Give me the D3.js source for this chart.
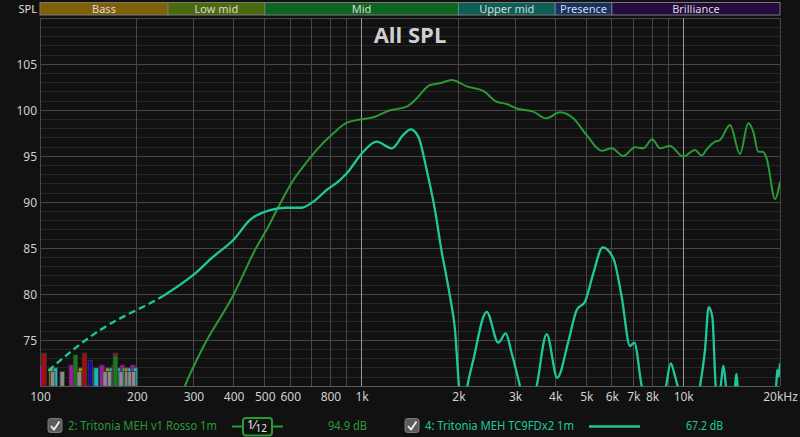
<!DOCTYPE html>
<html>
<head>
<meta charset="utf-8">
<script src="https://cdn.jsdelivr.net/npm/d3@7"></script>
<style>
  html, body { margin: 0; padding: 0; background: #111111; }
  svg { display: block; font-family: "Noto Sans", "Open Sans", sans-serif; }
</style>
</head>
<body>
<svg id="chart" width="800" height="437"></svg>
<script>
// ---------------- DATA ----------------
const bandNames = ["Bass", "Low mid", "Mid", "Upper mid", "Presence", "Brilliance"];
const bandEdges = [100, 250, 500, 2000, 4000, 6000, 20000];
const bandColors = ["#7f6006", "#4b6a0c", "#0c6620", "#0b5f56", "#143263", "#250b3e"];

const yTicks = [75, 80, 85, 90, 95, 100, 105];
const xTickValues = [100, 200, 300, 400, 500, 600, 800, 1000, 2000, 3000, 4000, 5000, 6000, 7000, 8000, 10000, 20000];
const xTickLabels = ["100", "200", "300", "400", "500", "600", "800", "1k", "2k", "3k", "4k", "5k", "6k", "7k", "8k", "10k", "20kHz"];

// Series 2: Tritonia MEH v1 Rosso 1m (green)
const greenFreq = [275, 282, 322, 399, 466, 519, 551, 613, 659, 725, 817, 899, 989, 1087, 1226, 1381, 1484, 1632, 1753, 1906,
  2123, 2390, 2631, 2827, 3036, 3420, 3745, 4140, 4553, 5010, 5580, 5995, 6513, 7081, 7515, 8013, 8471, 9099, 10007,
  10882, 11416, 11834, 12564, 13015, 13981, 15016, 15940, 16519, 17120, 17668, 18179, 19300, 20000];
const greenDb = [69.0, 70.0, 74.3, 79.9, 84.8, 87.7, 89.5, 92.4, 93.9, 95.7, 97.5, 98.65, 99.0, 99.24, 100.0, 100.4, 101.3, 102.75, 102.93, 103.3,
  102.6, 102.1, 100.93, 100.68, 100.2, 99.85, 99.13, 99.78, 99.13, 97.3, 95.6, 95.87, 95.03, 95.98, 95.87, 96.85, 95.87, 96.12, 94.96,
  95.68, 95.07, 95.76, 96.59, 96.77, 98.4, 95.25, 98.59, 97.67, 95.5, 95.5, 94.78, 90.36, 92.24];

// Series 4: Tritonia MEH TC9FDx2 1m (teal) - dashed low end
const tealDashFreq = [106.1, 153.7, 204.6, 219.8, 241.7];
const tealDashDb = [71.7, 76.12, 78.48, 79.02, 79.82];
const tealFreq = [241.7, 299.7, 345.8, 399, 449.8, 519, 585, 651, 707.6, 778.9, 856.5, 899, 1012, 1114, 1241, 1348, 1421, 1501,
  1594, 1712, 1753, 1883, 1952, 2009, 2067, 2132, 2225, 2449, 2662, 2806, 2929, 3108, 3291, 3503, 3763, 4060, 4393,
  4666, 4950, 5254, 5620, 6064, 6437, 6832, 7047, 7430, 8174, 8841, 9143, 9430, 9614, 10498, 11276, 11690, 12003,
  12317, 12621, 12829, 13081, 13327, 13587, 13981, 14497, 14632, 14778, 16844, 19442, 19622, 19820, 20000];
const tealDb = [79.82, 82.1, 84.09, 85.9, 88.08, 89.16, 89.41, 89.41, 90.07, 91.34, 92.42, 93.15, 95.5, 96.59, 95.87, 97.32, 97.93, 97.13,
  93.51, 88.08, 85.72, 79.74, 76.12, 70.0, 67.0, 70.0, 72.86, 78.1, 74.74, 75.76, 73.59, 70.0, 66.0, 70.0, 75.68, 70.93, 74.85,
  78.29, 79.2, 82.28, 85.11, 83.91, 79.74, 74.38, 74.74, 70.0, 66.0, 70.0, 72.5, 71.12, 70.0, 66.0, 70.0, 73.95, 78.59,
  77.57, 70.0, 68.0, 70.0, 72.24, 70.0, 67.0, 70.0, 71.34, 70.0, 66.0, 70.0, 71.77, 71.05, 72.5];

// Small level bars at lower-left
const barFreq = [100, 108.4, 111.6, 125.1, 133.8, 144.6, 149.5, 155.9, 162.7, 166.8, 170.2, 176.5, 180.5, 183.1, 186.4, 190.5, 194.6, 198.1,
  102.9, 128.9, 137.5, 143.4, 171.6, 171.6,
  109.5, 117.2, 132.4, 159.3, 164.5, 178.6, 186.4, 190.5, 195.5];
const barDb = [72.3, 72.0, 72.0, 72.3, 72.0, 72.0, 72.0, 72.3, 72.0, 72.0, 72.3, 72.0, 72.3, 72.0, 72.0, 72.0, 72.3, 72.0,
  73.6, 73.4, 73.6, 72.8, 73.6, 73.3,
  71.6, 71.6, 71.6, 71.6, 71.6, 71.6, 71.6, 71.6, 71.6];
const barColor = ["#b010b0", "#c09000", "#10c0c0", "#b010b0", "#c09000", "#c09000", "#10c0c0", "#b010b0", "#c09000", "#10c0c0", "#b010b0", "#10c0c0", "#b010b0", "#10c0c0", "#c09000", "#10c0c0", "#b010b0", "#10c0c0",
  "#b00808", "#108010", "#b00808", "#1010a0", "#b00808", "#108010",
  "#8a8a8a", "#8a8a8a", "#8a8a8a", "#8a8a8a", "#8a8a8a", "#8a8a8a", "#8a8a8a", "#8a8a8a", "#8a8a8a"];

const legendNames = ["2: Tritonia MEH v1 Rosso 1m", "4: Tritonia MEH TC9FDx2 1m"];
const legendValues = ["94.9 dB", "67.2 dB"];
const seriesColors = ["#2a9a35", "#1dc99a"];

// ---------------- CHART ----------------
const svg = d3.select("#chart");
const X0 = 40, X1 = 780, Y0 = 18.3, Y1 = 386.3;
const x = d3.scaleLog().domain([100, 20000]).range([X0, X1]);
const y = d3.scaleLinear().domain([70, 110]).range([Y1, Y0]);

svg.append("rect").attr("width", 800).attr("height", 437).attr("fill", "#111111");

// Band header
const bands = bandNames.map((n, i) => ({ name: n, f0: bandEdges[i], f1: bandEdges[i + 1], c: bandColors[i] }));
const bandG = svg.append("g");
bandG.selectAll("rect").data(bands).join("rect")
  .attr("x", d => x(d.f0)).attr("y", 2.5)
  .attr("width", d => x(d.f1) - x(d.f0)).attr("height", 12.5)
  .attr("fill", d => d.c).attr("stroke", "#7a7a7a").attr("stroke-width", 1);
bandG.selectAll("text").data(bands).join("text")
  .attr("x", d => (x(d.f0) + x(d.f1)) / 2).attr("y", 13)
  .attr("text-anchor", "middle").attr("fill", "#d8d8d8").attr("font-size", 11)
  .text(d => d.name);
svg.append("text").attr("x", 37).attr("y", 13).attr("text-anchor", "end")
  .attr("fill", "#e0e0e0").attr("font-size", 11).text("SPL");

// Grid
const grid = svg.append("g");
const hLines = d3.range(70, 111, 1);
grid.selectAll("line.h").data(hLines).join("line")
  .attr("x1", X0).attr("x2", X1).attr("y1", d => y(d)).attr("y2", d => y(d))
  .attr("stroke", d => d % 5 === 0 ? "#474747" : "#262626").attr("stroke-width", 1)
  .attr("shape-rendering", "crispEdges");
const vFreqs = d3.range(100, 1001, 100).concat(d3.range(2000, 10001, 1000)).concat([20000]);
grid.selectAll("line.v").data(vFreqs).join("line")
  .attr("x1", d => x(d)).attr("x2", d => x(d)).attr("y1", Y0).attr("y2", Y1)
  .attr("stroke", d => (d === 1000 || d === 10000) ? "#9a9a9a" : "#474747").attr("stroke-width", 1)
  .attr("shape-rendering", "crispEdges");
grid.append("line").attr("x1", X0).attr("x2", X1).attr("y1", Y1).attr("y2", Y1)
  .attr("stroke", "#5a5a5a").attr("shape-rendering", "crispEdges");

// Title
svg.append("text").attr("x", 410).attr("y", 43).attr("text-anchor", "middle")
  .attr("fill", "#cfcfcf").attr("font-size", 22).attr("font-weight", "bold")
  .attr("font-family", "'Open Sans', 'Noto Sans', sans-serif").text("All SPL");

// Y axis labels
const yAxis = d3.axisLeft(y).tickValues(yTicks).tickSize(0).tickPadding(0).tickFormat(d3.format("d"));
const yG = svg.append("g").attr("transform", `translate(${37},0)`).call(yAxis);
yG.select(".domain").remove();
yG.selectAll("text").attr("fill", "#d0d0d0").attr("font-size", 12).attr("font-family", "'Noto Sans', sans-serif");

// X axis labels
const xAxis = d3.axisBottom(x).tickValues(xTickValues).tickSize(0).tickPadding(0)
  .tickFormat((d, i) => xTickLabels[i]);
const xG = svg.append("g").attr("transform", `translate(0,${392})`).call(xAxis);
xG.select(".domain").remove();
xG.selectAll("text").attr("fill", "#d0d0d0").attr("font-size", 12).attr("font-family", "'Noto Sans', sans-serif");

// Clip
svg.append("clipPath").attr("id", "plotclip").append("rect")
  .attr("x", X0).attr("y", Y0).attr("width", X1 - X0).attr("height", Y1 - Y0);
const plot = svg.append("g").attr("clip-path", "url(#plotclip)");

// Level bars
const bars = barFreq.map((f, i) => ({ f, db: barDb[i], c: barColor[i] }));
plot.append("g").selectAll("rect").data(bars).join("rect")
  .attr("x", d => x(d.f) - 2.2).attr("width", 4.4)
  .attr("y", d => y(d.db)).attr("height", d => y(70) - y(d.db))
  .attr("fill", d => d.c).attr("stroke", "#3c3c3c").attr("stroke-width", 0.8);

// Lines
const line = d3.line().x(d => x(d[0])).y(d => y(d[1])).curve(d3.curveMonotoneX);
const greenPts = greenFreq.map((f, i) => [f, greenDb[i]]);
const tealDashPts = tealDashFreq.map((f, i) => [f, tealDashDb[i]]);
const tealPts = tealFreq.map((f, i) => [f, tealDb[i]]);

plot.append("path").datum(greenPts).attr("d", line)
  .attr("fill", "none").attr("stroke", seriesColors[0]).attr("stroke-width", 2);
plot.append("path").datum(tealDashPts).attr("d", line)
  .attr("fill", "none").attr("stroke", seriesColors[1]).attr("stroke-width", 2.3)
  .attr("stroke-dasharray", "7,4");
plot.append("path").datum(tealPts).attr("d", line)
  .attr("fill", "none").attr("stroke", seriesColors[1]).attr("stroke-width", 2.3)
  .attr("stroke-linejoin", "round");

// Legend
const lg = svg.append("g").attr("font-family", "'Noto Sans', sans-serif").attr("font-size", 12);
function checkbox(cx) {
  lg.append("rect").attr("x", cx).attr("y", 418.5).attr("width", 14).attr("height", 14).attr("rx", 2.5)
    .attr("fill", "#5c5c5c").attr("stroke", "#7a7a7a").attr("stroke-width", 1);
  lg.append("path").attr("d", `M${cx + 3},${426} L${cx + 6},${429.5} L${cx + 11.5},${421.5}`)
    .attr("fill", "none").attr("stroke", "#f0f0f0").attr("stroke-width", 1.8);
}
checkbox(48);
lg.append("text").attr("x", 68).attr("y", 430).attr("fill", seriesColors[0])
  .attr("textLength", 149).attr("lengthAdjust", "spacingAndGlyphs").text(legendNames[0]);
lg.append("line").attr("x1", 232).attr("x2", 283).attr("y1", 426.5).attr("y2", 426.5)
  .attr("stroke", seriesColors[0]).attr("stroke-width", 2);
lg.append("rect").attr("x", 243).attr("y", 418).attr("width", 29).attr("height", 17.5).attr("rx", 3)
  .attr("fill", "#111111").attr("stroke", seriesColors[0]).attr("stroke-width", 2);
const frac = lg.append("text").attr("x", 247).attr("y", 430).attr("fill", "#e8e8e8").attr("font-size", 12);
frac.append("tspan").attr("dy", -1).text("1");
frac.append("tspan").attr("dy", 0).text("⁄");
frac.append("tspan").attr("dy", 3).attr("font-size", 10).text("12");
lg.append("text").attr("x", 328).attr("y", 430).attr("fill", seriesColors[0])
  .attr("textLength", 39).attr("lengthAdjust", "spacingAndGlyphs").text(legendValues[0]);

checkbox(405);
lg.append("text").attr("x", 425).attr("y", 430).attr("fill", seriesColors[1])
  .attr("textLength", 149).attr("lengthAdjust", "spacingAndGlyphs").text(legendNames[1]);
lg.append("line").attr("x1", 589).attr("x2", 640).attr("y1", 426.5).attr("y2", 426.5)
  .attr("stroke", seriesColors[1]).attr("stroke-width", 2.3);
lg.append("text").attr("x", 686).attr("y", 430).attr("fill", seriesColors[1])
  .attr("textLength", 37).attr("lengthAdjust", "spacingAndGlyphs").text(legendValues[1]);
</script>
</body>
</html>
